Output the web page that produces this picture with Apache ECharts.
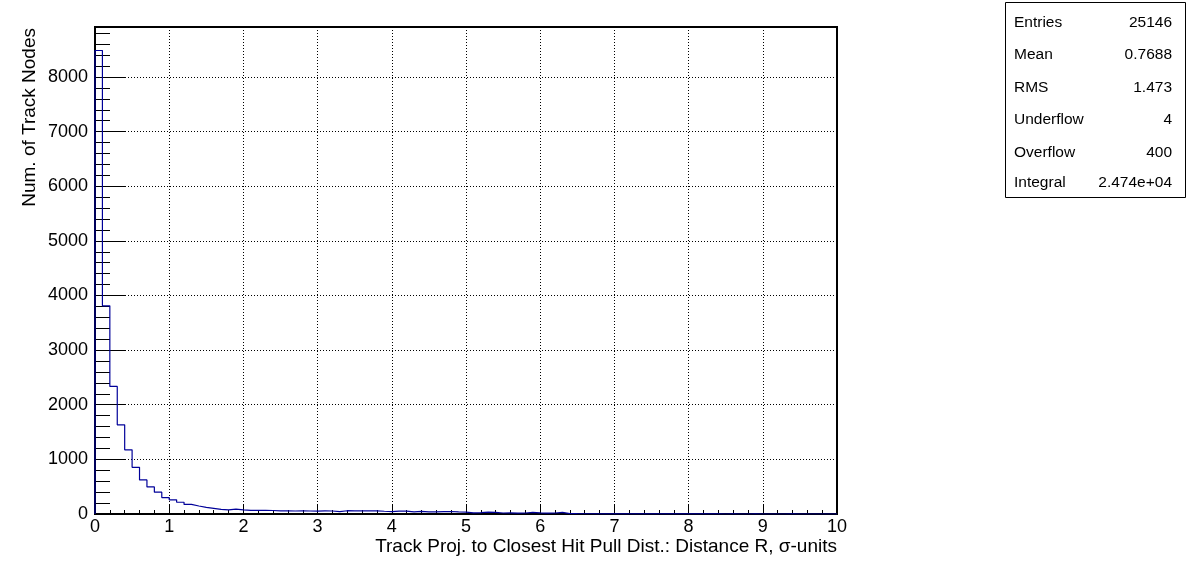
<!DOCTYPE html>
<html>
<head>
<meta charset="utf-8">
<script src="https://cdn.jsdelivr.net/npm/echarts@6/dist/echarts.min.js"></script>
<style>
  html, body { margin: 0; padding: 0; background: #fff; }
  #chart { width: 1196px; height: 572px; }
</style>
</head>
<body>
<div id="chart"></div>
<script>
// ---- data ----
const xRange = [0, 10];
const binWidth = 0.1;
const counts = [
  8485, 3810, 2336, 1633, 1174, 855, 624, 495, 400, 300,
  260, 215, 175, 147, 122, 104, 86, 74, 90, 75,
  66, 65, 66, 64, 56, 57, 55, 56, 55, 54,
  56, 55, 45, 60, 58, 59, 57, 58, 50, 45,
  52, 53, 38, 48, 40, 38, 45, 46, 38, 36,
  20, 25, 35, 30, 18, 20, 15, 18, 28, 20,
  15, 18, 30, 8, 6, 5, 5, 4, 4, 3,
  3, 3, 2, 2, 2, 2, 1, 1, 1, 1,
  1, 1, 1, 1, 0, 1, 0, 0, 1, 0,
  0, 0, 0, 1, 0, 0, 0, 0, 0, 0
];
const yMax = 8915;
const xTitle = 'Track Proj. to Closest Hit Pull Dist.: Distance R, \u03c3-units';
const yTitle = 'Num. of Track Nodes';
const statNames = ['Entries', 'Mean', 'RMS', 'Underflow', 'Overflow', 'Integral'];
const statValues = ['25146', '0.7688', '1.473', '4', '400', '2.474e+04'];

// ---- build step outline ----
const pts = [[xRange[0], 0]];
counts.forEach((c, i) => pts.push([+(xRange[0] + i * binWidth).toFixed(2), c]));
pts.push([xRange[1], counts[counts.length - 1]]);

const FONT = '"Liberation Sans", Arial, Helvetica, sans-serif';
const gridRect = { left: 95, right: 359, top: 27, bottom: 58 };

const statGraphics = [{
  type: 'rect', shape: { x: 1005.5, y: 2.5, width: 180, height: 195 },
  style: { fill: '#fff', stroke: '#000', lineWidth: 1 }
}];
const rowY = [22.5, 55, 88, 120, 152.5, 182.5];
statNames.forEach((n, i) => {
  statGraphics.push({ type: 'text', x: 1014, y: rowY[i],
    style: { text: n, font: '15.5px ' + FONT, fill: '#000', textAlign: 'left', textVerticalAlign: 'middle' } });
  statGraphics.push({ type: 'text', x: 1172, y: rowY[i],
    style: { text: statValues[i], font: '15.5px ' + FONT, fill: '#000', textAlign: 'right', textVerticalAlign: 'middle' } });
});

const chart = echarts.init(document.getElementById('chart'), null, { renderer: 'canvas' });
chart.setOption({
  animation: false,
  backgroundColor: '#fff',
  grid: [
    Object.assign({ show: true, borderColor: '#000', borderWidth: 2, backgroundColor: 'transparent' }, gridRect),
    Object.assign({ show: false }, gridRect)
  ],
  xAxis: [{
    type: 'value', gridIndex: 0, min: xRange[0], max: xRange[1], interval: 1,
    axisLine: { show: true, onZero: false, lineStyle: { color: '#000', width: 2 } },
    axisTick: { show: true, inside: true, length: 9, lineStyle: { color: '#000', width: 1 } },
    minorTick: { show: true, splitNumber: 5, length: 4, lineStyle: { color: '#000', width: 1 } },
    splitLine: { show: true, lineStyle: { color: '#000', width: 1, type: [1, 2] } },
    axisLabel: { fontSize: 18, fontFamily: FONT, color: '#000', margin: 4, formatter: v => String(v) }
  }, {
    type: 'value', gridIndex: 1, min: xRange[0], max: xRange[1], show: false
  }],
  yAxis: [{
    type: 'value', gridIndex: 0, min: 0, max: yMax, interval: 1000,
    axisLine: { show: true, onZero: false, lineStyle: { color: '#000', width: 2 } },
    axisTick: { show: true, inside: true, length: 31, lineStyle: { color: '#000', width: 1 } },
    splitLine: { show: true, lineStyle: { color: '#000', width: 1, type: [1, 2] } },
    axisLabel: { fontSize: 18, fontFamily: FONT, color: '#000', margin: 7, showMaxLabel: false, formatter: v => String(v) }
  }, {
    type: 'value', gridIndex: 1, min: 0, max: yMax, interval: 200,
    axisLine: { show: false },
    axisTick: { show: true, inside: true, length: 15, lineStyle: { color: '#000', width: 1 } },
    splitLine: { show: false },
    axisLabel: { show: false }
  }],
  series: [{
    type: 'line', xAxisIndex: 0, yAxisIndex: 0, step: 'end', symbol: 'none',
    data: pts, lineStyle: { color: '#000099', width: 1.2 }, z: 5
  }],
  graphic: [
    { type: 'text', x: 837, y: 547,
      style: { text: xTitle, font: '19px ' + FONT, fill: '#000', textAlign: 'right', textVerticalAlign: 'middle' } },
    { type: 'text', x: 30, y: 28, rotation: Math.PI / 2,
      style: { text: yTitle, font: '19px ' + FONT, fill: '#000', textAlign: 'right', textVerticalAlign: 'middle' } }
  ].concat(statGraphics)
});
</script>
</body>
</html>
